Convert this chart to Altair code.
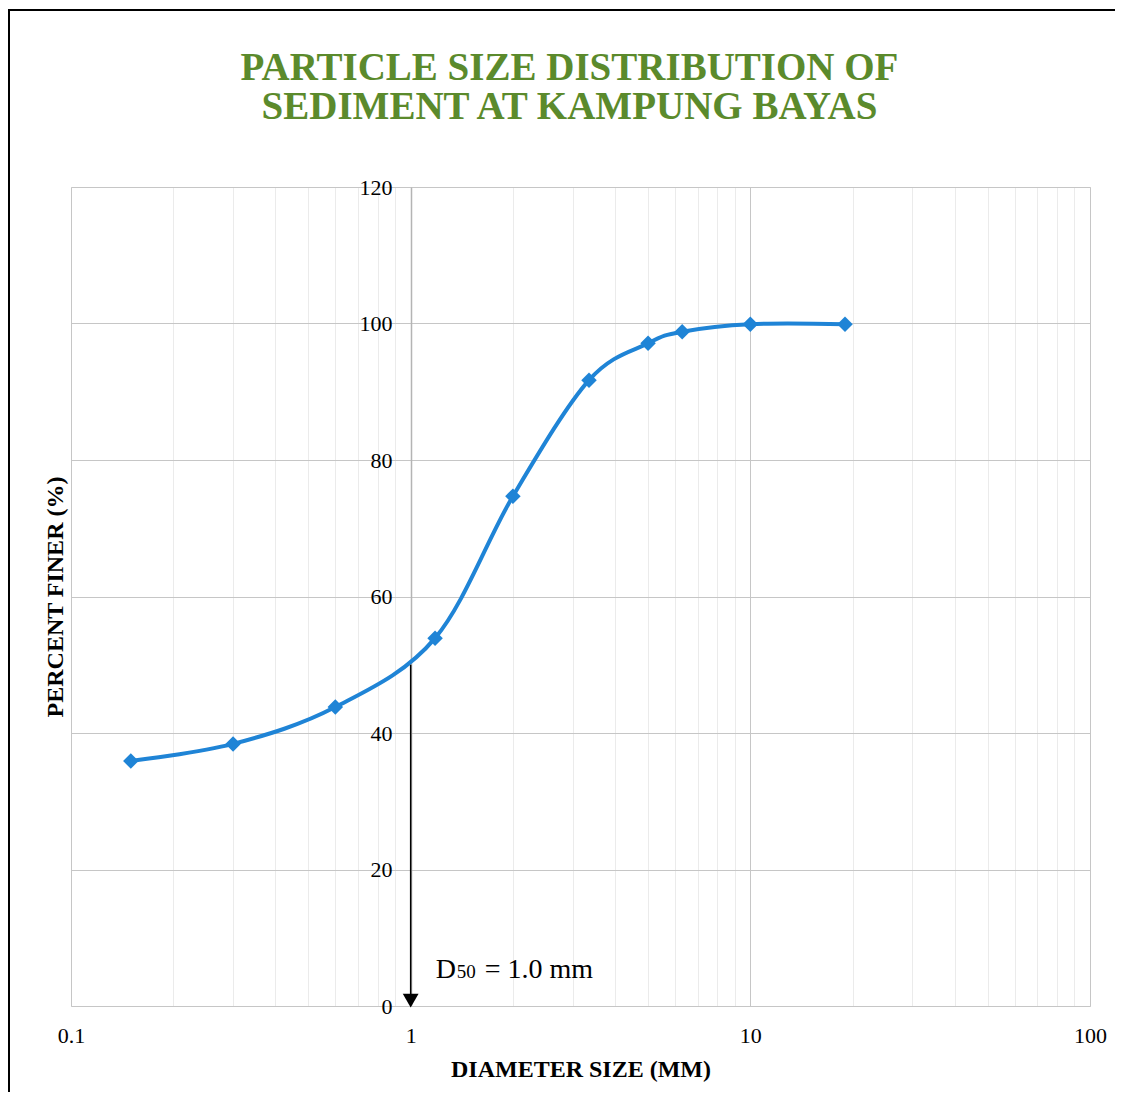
import altair as alt
import pandas as pd

# ---- data ----
diameter_mm = [0.15, 0.3, 0.6, 1.18, 2.0, 3.35, 5.0, 6.3, 10.0, 19.0]
percent_finer = [35.9, 38.4, 43.8, 53.9, 74.7, 91.7, 97.1, 98.8, 99.9, 99.9]

x_ticks = [0.1, 0.2, 0.3, 0.4, 0.5, 0.6, 0.7, 0.8, 0.9,
           1, 2, 3, 4, 5, 6, 7, 8, 9,
           10, 20, 30, 40, 50, 60, 70, 80, 90, 100]
y_ticks = [0, 20, 40, 60, 80, 100, 120]

d50_mm = [1.0]
d50_level = [50]
arrow_end = [1.5]
arrow_tip = [0.8]

label_parts = ["D", "50", "= 1.0 mm"]
label_sizes = [28, 19, 28]
label_dx = [25, 46, 74]
label_y = [4.1, 4.1, 4.1]

title_lines = ["PARTICLE SIZE DISTRIBUTION OF", "SEDIMENT AT KAMPUNG BAYAS"]

SERIF = "Liberation Serif"
BLUE = "#1f84d6"
GRID = "#c6c6c6"
MINOR = "#ebebeb"

df = pd.DataFrame({"d": diameter_mm, "p": percent_finer})
d50 = pd.DataFrame({"d": d50_mm, "p": d50_level, "p2": arrow_end, "tip": arrow_tip})
lab = pd.DataFrame({"d": d50_mm * 3, "y": label_y, "t": label_parts,
                    "s": label_sizes, "dx": label_dx})

is_major = "abs(log(datum.value)/LN10 - round(log(datum.value)/LN10)) < 0.001"

xscale = alt.Scale(type="log", domain=[0.1, 100])
yscale = alt.Scale(domain=[0, 120])

x_axis = alt.Axis(
    values=x_ticks,
    labelExpr=f"{is_major} ? format(datum.value, '~g') : ''",
    grid=True,
    gridColor={"condition": {"test": is_major, "value": GRID}, "value": MINOR},
    gridWidth=1,
    domain=False,
    ticks=False,
    labelPadding=19,
    labelFont=SERIF,
    labelFontSize=22,
    labelColor="black",
    labelFlush=False,
    labelOverlap=False,
    title="DIAMETER SIZE (MM)",
    titleFont=SERIF,
    titleFontSize=24,
    titleFontWeight="bold",
    titleColor="black",
    titlePadding=11,
)

y_axis_main = alt.Axis(
    values=y_ticks,
    grid=True,
    gridColor=GRID,
    labels=False,
    ticks=False,
    domain=False,
    title="PERCENT FINER (%)",
    titleFont=SERIF,
    titleFontSize=24,
    titleFontWeight="bold",
    titleColor="black",
    titlePadding=4,
)

y_axis_mid = alt.Axis(
    orient="left",
    offset=-340,
    values=y_ticks,
    grid=False,
    ticks=False,
    domain=True,
    domainColor="#b4b4b4",
    domainWidth=1.5,
    labelPadding=19,
    labelFont=SERIF,
    labelFontSize=22,
    labelColor="black",
    labelFlush=False,
    title=None,
)

line = alt.Chart(df).mark_line(
    interpolate="cardinal", color=BLUE, strokeWidth=4
).encode(
    x=alt.X("d:Q", scale=xscale, axis=x_axis),
    y=alt.Y("p:Q", scale=yscale, axis=y_axis_main),
)

points = alt.Chart(df).mark_point(
    shape="diamond", filled=True, color=BLUE, size=240, opacity=1
).encode(
    x=alt.X("d:Q", scale=xscale),
    y=alt.Y("p:Q", scale=yscale, axis=None),
)

rule = alt.Chart(d50).mark_rule(color="black", strokeWidth=1.5).encode(
    x=alt.X("d:Q", scale=xscale),
    y=alt.Y("p:Q", scale=yscale, axis=y_axis_mid),
    y2="p2:Q",
)

head = alt.Chart(d50).mark_point(
    shape="triangle-down", filled=True, color="black", size=250, opacity=1
).encode(
    x=alt.X("d:Q", scale=xscale),
    y=alt.Y("tip:Q", scale=yscale, axis=None),
)

texts = []
for i in range(len(label_parts)):
    texts.append(
        alt.Chart(lab.iloc[[i]]).mark_text(
            font=SERIF, fontSize=label_sizes[i], align="left",
            baseline="alphabetic", dx=label_dx[i], color="black"
        ).encode(
            x=alt.X("d:Q", scale=xscale),
            y=alt.Y("y:Q", scale=yscale, axis=None),
            text="t:N",
        )
    )

frame = alt.Chart(pd.DataFrame({"k": [0]})).mark_rect(
    fillOpacity=0, stroke="black", strokeWidth=2
).encode(
    x=alt.value(-62), x2=alt.value(1120),
    y=alt.value(-177), y2=alt.value(1000),
)

chart = alt.layer(line, points, rule, head, *texts, frame).resolve_axis(
    y="independent"
).properties(
    width=1019,
    height=819,
    padding={"left": 63, "top": 179, "right": 25, "bottom": 86},
    autosize=alt.AutoSizeParams(type="none"),
    title=alt.TitleParams(
        text=title_lines,
        font=SERIF,
        fontSize=39,
        fontWeight="bold",
        color="#5b8a2c",
        lineHeight=39,
        anchor="middle",
        dx=-11,
        offset=-118,
    ),
).configure_view(
    stroke=GRID, strokeWidth=1
).configure(background="white")

chart.save("out.html", embed_options={"renderer": "svg", "actions": False})
